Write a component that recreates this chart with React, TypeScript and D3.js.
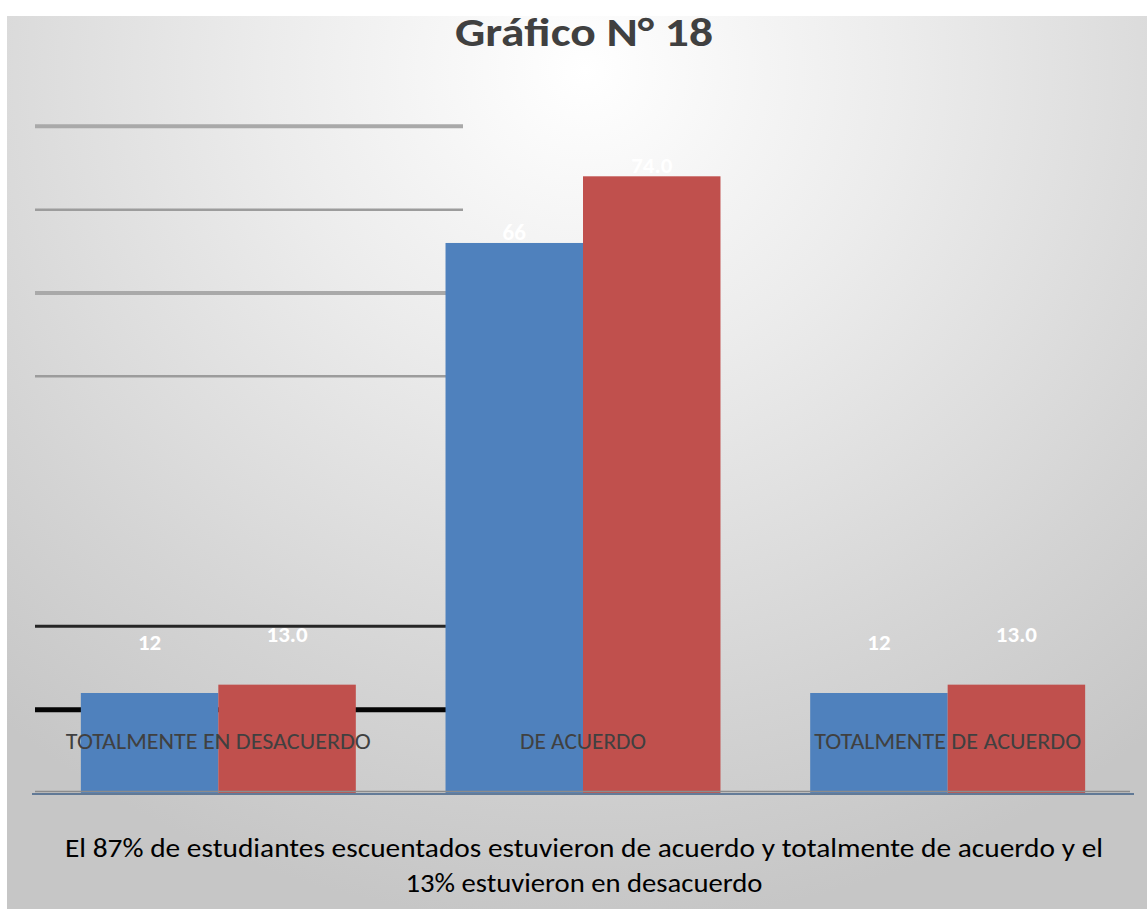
import React from 'react';
import * as d3 from 'd3';

// chart values
const categories = ['TOTALMENTE EN DESACUERDO', 'DE ACUERDO', 'TOTALMENTE DE ACUERDO'];
const seriesA = [12, 66, 12];
const seriesB = [13, 74, 13];
const seriesALabels = ['12', '66', '12'];
const seriesBLabels = ['13.0', '74.0', '13.0'];
const gridTicks = [10, 20, 50, 60, 70, 80];
const title = 'Gráfico N° 18';
const captionLines = [
  'El 87% de estudiantes escuentados estuvieron de acuerdo  y totalmente de acuerdo y el',
  '13% estuvieron en desacuerdo',
];

const width = 1147;
const height = 909;
const font = "Carlito, Calibri, 'Open Sans', sans-serif";

const x = d3.scaleBand<string>()
  .domain(categories)
  .range([36, 1130])
  .paddingInner(0.246)
  .paddingOuter(0.123);

const xSeries = d3.scaleBand<string>()
  .domain(['a', 'b'])
  .range([0, x.bandwidth()]);

const y = d3.scaleLinear()
  .domain([0, 80])
  .range([793, 126.3]);

const gridStyle = (v: number) => {
  if (v === 10) return { stroke: '#050505', width: 5 };
  if (v === 20) return { stroke: '#262626', width: 3 };
  if (v === 80 || v === 60) return { stroke: '#a9a9a9', width: 4 };
  return { stroke: '#9c9c9c', width: 2.5 };
};

const catWidths: Record<string, number> = {
  'TOTALMENTE EN DESACUERDO': 305,
  'DE ACUERDO': 126,
  'TOTALMENTE DE ACUERDO': 267,
};

const labelY = (v: number) => (v > 30 ? y(v) - 3 : y(v) - 43);

export default function App() {
  const series = [
    { key: 'a', values: seriesA, labels: seriesALabels, color: '#4F81BD' },
    { key: 'b', values: seriesB, labels: seriesBLabels, color: '#C0504D' },
  ];

  return (
    <div style={{ position: 'absolute', left: 0, top: 0 }}>
      <svg width={width} height={height} style={{ display: 'block' }}>
        <defs>
          <radialGradient id="bg" gradientUnits="userSpaceOnUse" cx={585} cy={70} r={900}
            gradientTransform="translate(585 70) scale(1 0.95) translate(-585 -70)">
            <stop offset="0" stopColor="#ffffff" />
            <stop offset="0.35" stopColor="#ececec" />
            <stop offset="0.75" stopColor="#d4d4d4" />
            <stop offset="1" stopColor="#c6c6c6" />
          </radialGradient>
        </defs>
        <rect x={0} y={0} width={width} height={height} fill="#ffffff" />
        <rect x={7} y={16} width={width - 7} height={height - 16} fill="url(#bg)" />

        <text x={584} y={46} textAnchor="middle" fontFamily={font} fontWeight="bold"
          fontSize={40} fill="#404040" textLength={258} lengthAdjust="spacingAndGlyphs">
          {title}
        </text>

        {/* gridlines, only drawn on the left part */}
        {gridTicks.map(t => {
          const s = gridStyle(t);
          return (
            <line key={t} x1={35} x2={463} y1={y(t)} y2={y(t)}
              stroke={s.stroke} strokeWidth={s.width} />
          );
        })}

        {series.map(s => (
          <g key={s.key}>
            {categories.map((c, i) => (
              <rect key={c}
                x={(x(c) ?? 0) + (xSeries(s.key) ?? 0)}
                y={y(s.values[i])}
                width={xSeries.bandwidth()}
                height={y(0) - y(s.values[i])}
                fill={s.color} />
            ))}
          </g>
        ))}

        {/* axis line */}
        <line x1={35} x2={1130} y1={791.5} y2={791.5} stroke="#8c8c8c" strokeWidth={1.5} />
        <line x1={32} x2={1134} y1={794} y2={794} stroke="#3f5f86" strokeWidth={1.5} />

        {series.map(s => (
          <g key={s.key + '-lab'}>
            {categories.map((c, i) => (
              <text key={c}
                x={(x(c) ?? 0) + (xSeries(s.key) ?? 0) + xSeries.bandwidth() / 2}
                y={labelY(s.values[i])}
                textAnchor="middle" fontFamily={font} fontWeight="bold" fontSize={23}
                fill="#ffffff">
                {s.labels[i]}
              </text>
            ))}
          </g>
        ))}

        {categories.map(c => (
          <text key={c} x={(x(c) ?? 0) + x.bandwidth() / 2} y={749}
            textAnchor="middle" fontFamily={font} fontSize={22} fill="#404040"
            textLength={catWidths[c]} lengthAdjust="spacingAndGlyphs">
            {c}
          </text>
        ))}

        {captionLines.map((l, i) => (
          <text key={i} x={584} y={857 + i * 35} textAnchor="middle" fontFamily={font}
            fontSize={26} fill="#000000"
            textLength={i === 0 ? 1038 : 357} lengthAdjust="spacingAndGlyphs">
            {l}
          </text>
        ))}
      </svg>
    </div>
  );
}
